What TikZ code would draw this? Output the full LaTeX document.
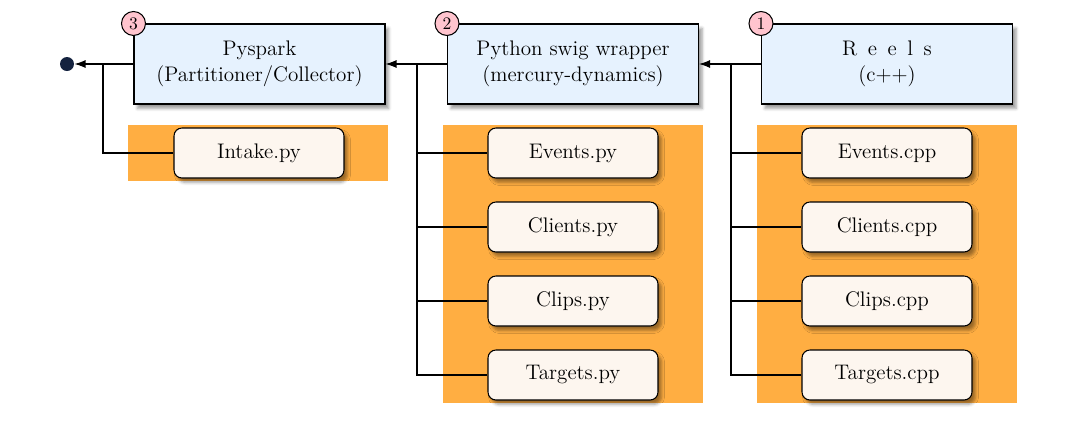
\documentclass[tikz,border=0pt]{standalone}
\usetikzlibrary{arrows.meta,shadows.blur}
\definecolor{stagefill}{HTML}{E6F2FE}
\definecolor{srcfill}{HTML}{FDF6EF}
\definecolor{grpfill}{HTML}{FFAE42}
\definecolor{badgefill}{HTML}{FFC4CE}
\definecolor{dotfill}{HTML}{14223F}

\begin{document}
\begin{tikzpicture}[x=0.02cm,y=-0.02cm,>={Latex[length=2.2mm,width=1.6mm]},semithick,
    stage/.style={rectangle,draw,fill=stagefill,minimum width=5.02cm,minimum height=1.6cm,align=center,
      blur shadow={shadow xshift=2pt,shadow yshift=-2.5pt,shadow blur steps=4,shadow opacity=40}},
    src/.style={rectangle,rounded corners=4.5pt,draw,fill=srcfill,minimum width=3.4cm,minimum height=1cm,
      blur shadow={shadow xshift=2pt,shadow yshift=-2.5pt,shadow blur steps=4,shadow opacity=40}},
    badge/.style={circle,draw,fill=badgefill,minimum size=0.48cm,inner sep=0pt,font=\normalsize},
    font=\fontsize{12}{15}\selectfont]
    \useasboundingbox (0,0) rectangle (1076,424);

    % orange groups behind the source files
    \fill [grpfill] (128,125) rectangle (388,181);
    \fill [grpfill] (443,125) rectangle (703,403);
    \fill [grpfill] (757,125) rectangle (1017,403);

    \node (R3) at (259.5,64) [stage]{Pyspark\\(Partitioner/Collector)};
    \node (R2) at (573,64) [stage]{Python swig wrapper\\(mercury-dynamics)};
    \node (R1) at (887,64) [stage]{R\enspace e\enspace e\enspace l\enspace s\\(c++)};
    \node (N3) at (R3.north west) [badge]{3};
    \node (N2) at (R2.north west) [badge]{2};
    \node (N1) at (R1.north west) [badge]{1};
    \node (out) at (67,64) [circle,fill=dotfill,minimum size=0.28cm,inner sep=0pt]{};

    \node (Intake) at (259,153) [src]{Intake.py};
    \node (EvPy) at (573,153) [src]{Events.py};
    \node (ClPy) at (573,227) [src]{Clients.py};
    \node (CpPy) at (573,301) [src]{Clips.py};
    \node (TgPy) at (573,375) [src]{Targets.py};
    \node (EvCpp) at (887,153) [src]{Events.cpp};
    \node (ClCpp) at (887,227) [src]{Clients.cpp};
    \node (CpCpp) at (887,301) [src]{Clips.cpp};
    \node (TgCpp) at (887,375) [src]{Targets.cpp};

    \draw [->] (R1.west) to (R2.east);
    \draw [->] (R2.west) to (R3.east);
    \draw [->] (R3.west) to (out.east);

    \coordinate (T3) at (103,64);
    \coordinate (T2) at (417,64);
    \coordinate (T1) at (731,64);
    \draw (T3) |- (Intake.west);
    \draw (T2) |- (EvPy.west);
    \draw (T2) |- (ClPy.west);
    \draw (T2) |- (CpPy.west);
    \draw (T2) |- (TgPy.west);
    \draw (T1) |- (EvCpp.west);
    \draw (T1) |- (ClCpp.west);
    \draw (T1) |- (CpCpp.west);
    \draw (T1) |- (TgCpp.west);
  \end{tikzpicture}
\end{document}
